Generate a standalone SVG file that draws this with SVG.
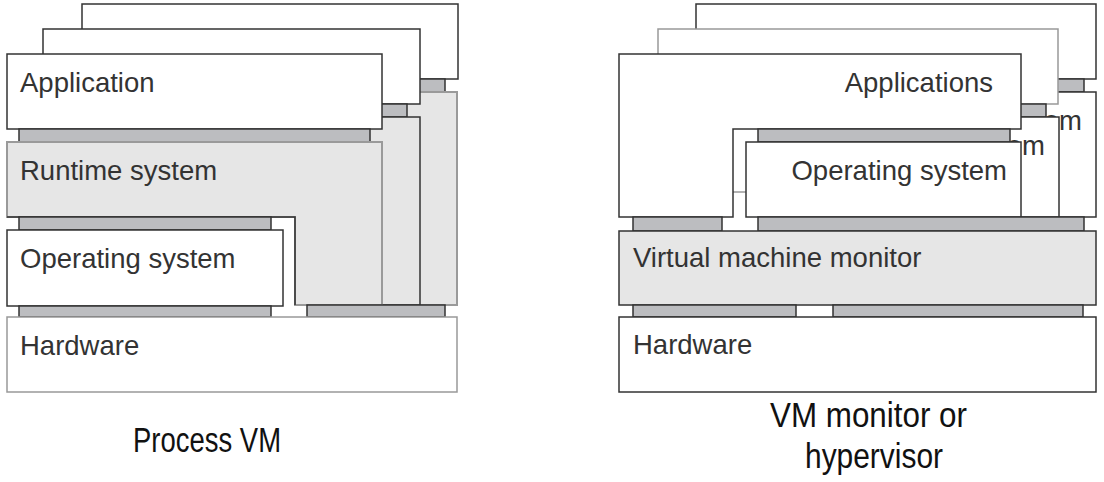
<svg xmlns="http://www.w3.org/2000/svg" width="1104" height="482" viewBox="0 0 1104 482">
<style>
  .w{fill:#ffffff;stroke:#333333;stroke-width:1.5}
  .wl{fill:#ffffff;stroke:#999999;stroke-width:1.5}
  .g{fill:#e6e6e6;stroke:#333333;stroke-width:1.5}
  .gl{fill:#e6e6e6;stroke:#9a9a9a;stroke-width:2}
  .c{fill:#bcbdc0;stroke:#333333;stroke-width:1.5}
  .dk{fill:none;stroke:#333333;stroke-width:1.5}
  .t{font-family:"Liberation Sans",Arial,sans-serif;font-size:27.5px;fill:#333333}
  .cap{font-family:"Liberation Sans",Arial,sans-serif;font-size:35px;fill:#111111}
</style>
<rect width="1104" height="482" fill="#ffffff"/>

<!-- ===== Process VM ===== -->
<g id="pvm-back">
  <rect class="w" x="82" y="4" width="376" height="75"/>
  <rect class="c" x="94" y="79" width="351" height="13"/>
  <polygon class="gl" points="82,92 457,92 457,305 370,305 370,167 82,167"/>
</g>
<g id="pvm-middle">
  <rect class="w" x="43" y="29" width="377" height="75"/>
  <rect class="c" x="56" y="104" width="351" height="13"/>
  <polygon class="g" points="44,117 420,117 420,305 333,305 333,192 44,192"/>
</g>
<g id="pvm-application">
  <rect class="w" x="7" y="54" width="375" height="75"/>
  <text class="t" x="20" y="92">Application</text>
</g>
<g id="pvm-runtime">
  <rect class="c" x="19" y="129" width="351" height="13"/>
  <polygon class="gl" points="7,142 382,142 382,305 295,305 295,217 7,217"/>
  <polyline class="dk" points="7,217 295,217 295,305"/>
  <text class="t" x="20" y="180">Runtime system</text>
</g>
<g id="pvm-os">
  <rect class="c" x="19" y="217" width="252" height="13"/>
  <rect class="w" x="7" y="230" width="276" height="76"/>
  <text class="t" x="20" y="268">Operating system</text>
</g>
<g id="pvm-hardware">
  <rect class="c" x="19" y="306" width="252" height="11"/>
  <rect class="c" x="307" y="305" width="138" height="12"/>
  <rect class="wl" x="7" y="317" width="450" height="75"/>
  <text class="t" x="20" y="355">Hardware</text>
</g>
<g id="pvm-caption">
  <text class="cap" x="133" y="452" textLength="148" lengthAdjust="spacingAndGlyphs">Process VM</text>
</g>

<!-- ===== VM monitor / hypervisor ===== -->
<g id="hv-back">
  <polygon class="w" points="696,4 1096,4 1096,79 810,79 810,167 696,167"/>
  <rect class="c" x="836" y="79" width="248" height="13"/>
  <rect class="w" x="823" y="92" width="273" height="125"/>
  <text class="t" x="1082" y="130" text-anchor="end">Operating system</text>
</g>
<g id="hv-middle">
  <polygon class="wl" points="658,29 1058,29 1058,104 772,104 772,192 658,192"/>
  <rect class="c" x="797" y="104" width="249" height="13"/>
  <rect class="w" x="785" y="117" width="274" height="100"/>
  <text class="t" x="1045" y="155" text-anchor="end">Operating system</text>
</g>
<g id="hv-applications">
  <polygon class="w" points="619,54 1021,54 1021,129 733,129 733,217 619,217"/>
  <text class="t" x="993" y="92" text-anchor="end">Applications</text>
</g>
<g id="hv-os">
  <rect class="c" x="758" y="129" width="252" height="13"/>
  <rect class="w" x="746" y="142" width="275" height="75"/>
  <text class="t" x="1007" y="180" text-anchor="end">Operating system</text>
</g>
<g id="hv-vmm">
  <rect class="c" x="633" y="217" width="89" height="14"/>
  <rect class="c" x="758" y="217" width="326" height="14"/>
  <rect class="g" x="619" y="231" width="477" height="74"/>
  <text class="t" x="633" y="267">Virtual machine monitor</text>
</g>
<g id="hv-hardware">
  <rect class="c" x="633" y="305" width="163" height="12"/>
  <rect class="c" x="833" y="305" width="250" height="12"/>
  <rect class="w" x="619" y="317" width="477" height="75"/>
  <text class="t" x="633" y="354">Hardware</text>
</g>
<g id="hv-caption">
  <text class="cap" x="770" y="427" textLength="197" lengthAdjust="spacingAndGlyphs">VM monitor or</text>
  <text class="cap" x="805" y="468" textLength="138" lengthAdjust="spacingAndGlyphs">hypervisor</text>
</g>
<g id="connectors"></g>
</svg>
